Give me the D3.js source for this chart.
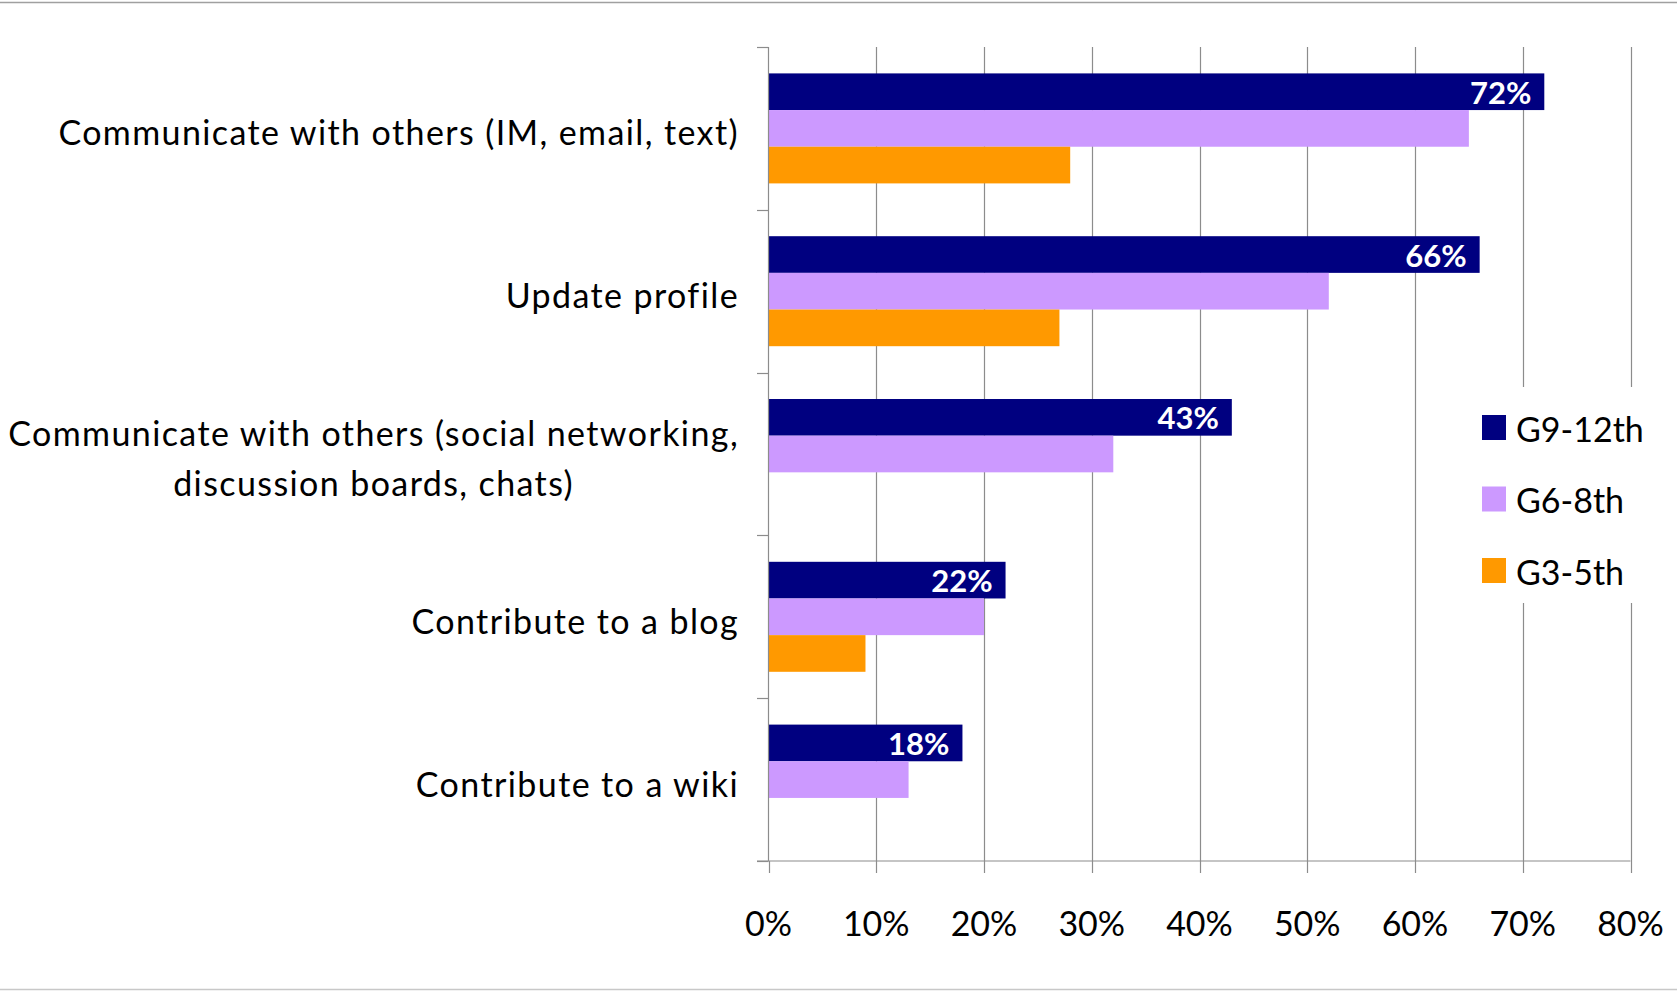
<!DOCTYPE html>
<html><head><meta charset="utf-8">
<script src="https://cdn.jsdelivr.net/npm/d3@7"></script>
<style>body{margin:0;background:#fff;} svg{display:block;}</style>
</head><body><svg id="c" width="1677" height="995"></svg>
<script>
const categories = ["Communicate with others (IM, email, text)", "Update profile", "Communicate with others (social networking, discussion boards, chats)", "Contribute to a blog", "Contribute to a wiki"];
const categoryLines = [["Communicate with others (IM, email, text)"], ["Update profile"], ["Communicate with others (social networking,", "discussion boards, chats)"], ["Contribute to a blog"], ["Contribute to a wiki"]];
const seriesNames = ["G9-12th", "G6-8th", "G3-5th"];
const g9_12 = [72, 66, 43, 22, 18];
const g6_8 = [65, 52, 32, 20, 13];
const g3_5 = [28, 27, null, 9, null];
const seriesColors = ["#000080", "#CC99FF", "#FF9900"];
const xTicks = [0, 10, 20, 30, 40, 50, 60, 70, 80];
const xTickLabels = ["0%", "10%", "20%", "30%", "40%", "50%", "60%", "70%", "80%"];
const labelSeries = ["G9-12th"];

(function(){
const seriesValues = [g9_12, g6_8, g3_5];
const svg = d3.select("#c");
const FONT = "Lato, 'Open Sans', sans-serif";
const pLeft = 768.5, pRight = 1630.5, pTop = 47, pBottom = 861;

svg.append("line").attr("x1",0).attr("x2",1677).attr("y1",2.5).attr("y2",2.5).attr("stroke","#a0a0a0").attr("stroke-width",1.5);
svg.append("line").attr("x1",0).attr("x2",1677).attr("y1",989.5).attr("y2",989.5).attr("stroke","#c8c8c8").attr("stroke-width",1.5);

const x = d3.scaleLinear().domain([0, 80]).range([pLeft, pRight]);
const y0 = d3.scaleBand().domain(categories).range([pTop, pBottom]);
const y1 = d3.scaleBand().domain(seriesNames).range([0, y0.bandwidth()]).paddingInner(0).paddingOuter(0.72);

// gridlines
svg.append("g").selectAll("line").data(xTicks.filter(t => t > 0)).join("line")
  .attr("x1", d => Math.round(x(d)) + 0.5).attr("x2", d => Math.round(x(d)) + 0.5)
  .attr("y1", pTop).attr("y2", pBottom).attr("stroke", "#8c8c8c").attr("stroke-width", 1.2);

// bars
const rows = [];
categories.forEach((c, i) => seriesNames.forEach((s, j) => {
  if (seriesValues[j][i] != null) rows.push({c, s, v: seriesValues[j][i], color: seriesColors[j]});
}));
svg.append("g").selectAll("rect").data(rows).join("rect")
  .attr("x", x(0)).attr("y", d => y0(d.c) + y1(d.s))
  .attr("width", d => x(d.v) - x(0)).attr("height", y1.bandwidth())
  .attr("fill", d => d.color);

// data labels
svg.append("g").selectAll("text").data(rows.filter(d => labelSeries.includes(d.s))).join("text")
  .attr("x", d => x(d.v) - 13).attr("y", d => y0(d.c) + y1(d.s) + y1.bandwidth() / 2 + 12)
  .attr("text-anchor", "end").attr("fill", "#fff").attr("font-family", FONT)
  .attr("font-weight", "bold").attr("font-size", 31).text(d => d.v + "%");

// left axis
const ax = svg.append("g").attr("stroke", "#8c8c8c").attr("stroke-width", 1.2);
ax.append("line").attr("x1", pLeft).attr("x2", pLeft).attr("y1", pTop).attr("y2", pBottom);
const bounds = categories.map(c => y0(c)).concat([pBottom]);
ax.selectAll("line.tk").data(bounds).join("line").attr("class","tk")
  .attr("x1", 757).attr("x2", pLeft).attr("y1", d => Math.round(d) + 0.5).attr("y2", d => Math.round(d) + 0.5);
// bottom axis
ax.append("line").attr("x1", 757).attr("x2", pRight).attr("y1", pBottom).attr("y2", pBottom);
ax.selectAll("line.bt").data(xTicks).join("line").attr("class","bt")
  .attr("x1", d => Math.round(x(d)) + 0.5).attr("x2", d => Math.round(x(d)) + 0.5).attr("y1", pBottom).attr("y2", 873);

// tick labels
svg.append("g").selectAll("text").data(xTicks).join("text")
  .attr("x", d => x(d)).attr("y", 936).attr("text-anchor", "middle")
  .attr("font-family", FONT).attr("font-size", 34).attr("fill", "#000")
  .text((d, i) => xTickLabels[i]);

// category labels
const cg = svg.append("g").attr("font-family", FONT).attr("font-size", 34).attr("letter-spacing", "1.4px").attr("fill", "#000");
categories.forEach((c, i) => {
  const lines = categoryLines[i];
  const t = cg.append("text").attr("text-anchor", "middle");
  lines.forEach((l) => t.append("tspan").text(l));
  let maxW = 0;
  t.selectAll("tspan").each(function(){ maxW = Math.max(maxW, this.getComputedTextLength()); });
  const cx = 739 - maxW / 2;
  const cy = y0(c) + y0.bandwidth() / 2 + 17;
  t.selectAll("tspan").attr("x", cx).attr("y", (d, k) => cy + (k - (lines.length - 1) / 2) * 50);
});

// legend
const lg = svg.append("g");
lg.append("rect").attr("x", 1470).attr("y", 387).attr("width", 207).attr("height", 216).attr("fill", "#fff");
seriesNames.forEach((s, i) => {
  const cy = 427.5 + i * 71.5;
  lg.append("rect").attr("x", 1482).attr("y", cy - 12.5).attr("width", 24).attr("height", 25).attr("fill", seriesColors[i]);
  lg.append("text").attr("x", 1516).attr("y", cy + 14).attr("font-family", FONT).attr("font-size", 34).attr("fill", "#000").text(s);
});
})();
</script></body></html>
